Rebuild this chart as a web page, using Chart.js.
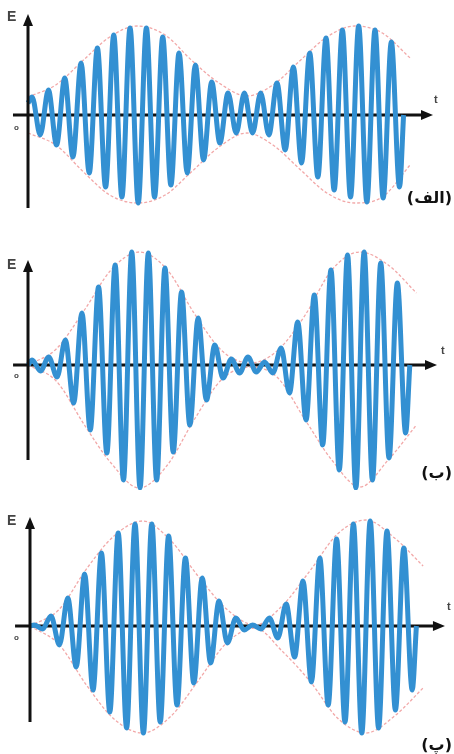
<!DOCTYPE html>
<html><head><meta charset="utf-8">
<script src="https://cdn.jsdelivr.net/npm/chart.js@4"></script>
<style>
html,body{margin:0;padding:0;background:#fff;}
#wrap{position:relative;width:454px;height:754px;overflow:hidden;background:#fff;}
canvas{position:absolute;left:0;}
.lbl{position:absolute;font-family:"Liberation Sans",Arial,sans-serif;color:#444;line-height:1;}
.E{font-weight:bold;font-size:14px;}
.t{font-weight:bold;font-size:11px;}
.o{font-weight:bold;font-size:8px;}
.fa{position:absolute;right:2px;font-family:"DejaVu Sans",sans-serif;font-weight:bold;font-size:16px;color:#111;direction:rtl;line-height:1;}
</style></head>
<body><div id="wrap">
<canvas id="c1" width="454" height="230" style="top:0px"></canvas>
<canvas id="c2" width="454" height="250" style="top:240px"></canvas>
<canvas id="c3" width="454" height="254" style="top:500px"></canvas>
<div class="lbl E" style="left:7px;top:9px">E</div>
<div class="lbl t" style="left:434px;top:94px">t</div>
<div class="lbl o" style="left:14px;top:124px">o</div>
<div class="fa" style="top:190px">(الف)</div>
<div class="lbl E" style="left:7px;top:257px">E</div>
<div class="lbl t" style="left:441px;top:345px">t</div>
<div class="lbl o" style="left:14px;top:372px">o</div>
<div class="fa" style="top:465px">(ب)</div>
<div class="lbl E" style="left:7px;top:513px">E</div>
<div class="lbl t" style="left:447px;top:601px">t</div>
<div class="lbl o" style="left:14px;top:634px">o</div>
<div class="fa" style="top:737px">(پ)</div>
</div>
<script>
// time of each extremum, in carrier periods (shared by the three panels)
const waveTimes = [0,0.25,0.75,1.25,1.75,2.25,2.75,3.25,3.75,4.25,4.75,5.25,5.75,6.25,6.75,7.25,7.75,8.25,8.75,9.25,9.75,10.25,10.75,11.25,11.75,12.25,12.75,13.25,13.75,14.25,14.75,15.25,15.75,16.25,16.75,17.25,17.75,18.25,18.75,19.25,19.75,20.25,20.75,21.25,21.75,22.25,22.75,23.0];
// field values at those times (panel الف)
const waveA = [12,18,-20,25,-30,37,-42,52,-58,67,-72,80,-82,87,-88,87,-82,78,-70,62,-58,50,-45,33,-28,22,-18,22,-18,22,-20,32,-35,48,-48,62,-62,77,-75,85,-82,89,-87,85,-83,73,-72,0];
// panel ب
const waveB = [0,5,-6,8,-12,25,-38,52,-65,78,-88,100,-115,113,-123,112,-115,97,-87,73,-60,47,-35,20,-13,6,-8,8,-7,3,-8,17,-28,43,-55,70,-80,95,-105,110,-123,113,-115,102,-93,82,-68,0];
// panel پ
const waveC = [0,1,-3,10,-19,28,-41,52,-64,73,-86,93,-102,102,-107,102,-96,90,-79,68,-57,48,-37,25,-17,8,-4,1,-3,8,-12,22,-31,45,-56,68,-79,87,-96,102,-107,105,-102,95,-84,78,-64,0];
// envelope (red dotted) readings
const envTimes = [0,1.7,3.4,5.0,6.7,8.4,10.0,11.7,13.4,15.0,16.7,18.3,20.0,21.7,23.4];
const envAUpper = [18,30,55,78,89,80,55,32,19,30,55,78,89,82,57];
const envALower = [-18,-30,-57,-80,-88,-80,-57,-32,-18,-30,-55,-78,-88,-82,-50];
const envBUpper = [0,16,55,95,113,95,52,14,2,14,50,95,113,100,72];
const envBLower = [0,-16,-60,-98,-123,-100,-55,-14,-2,-12,-55,-95,-122,-95,-60];
const envCUpper = [0,16,58,90,105,85,50,17,1,20,56,92,106,88,60];
const envCLower = [0,-18,-60,-93,-107,-90,-55,-17,-2,-25,-56,-92,-107,-90,-62];

const WAVE_COLOR = '#3390d2';
const ENV_COLOR = '#f2a8a8';

function pts(xs, ys){ return xs.map((x,i)=>({x:x, y:ys[i]})); }

const arrowAxes = {
  id:'arrowAxes',
  beforeDatasetsDraw(chart, args, o){
    const ctx = chart.ctx, xs = chart.scales.x, ys = chart.scales.y;
    const y0 = ys.getPixelForValue(0);
    const xa = xs.getPixelForValue(o.xFrom), xb = xs.getPixelForValue(o.xTo);
    ctx.save();
    ctx.strokeStyle = '#111'; ctx.fillStyle = '#111'; ctx.lineWidth = 3;
    ctx.beginPath(); ctx.moveTo(xa, y0); ctx.lineTo(xb - 9, y0); ctx.stroke();
    ctx.beginPath(); ctx.moveTo(xb, y0); ctx.lineTo(xb - 12, y0 - 5); ctx.lineTo(xb - 12, y0 + 5); ctx.closePath(); ctx.fill();
    ctx.restore();
  },
  afterDatasetsDraw(chart, args, o){
    const ctx = chart.ctx, xs = chart.scales.x, ys = chart.scales.y;
    const x0 = xs.getPixelForValue(0);
    const ya = ys.getPixelForValue(o.yFrom), yb = ys.getPixelForValue(o.yTo);
    ctx.save();
    ctx.strokeStyle = '#111'; ctx.fillStyle = '#111'; ctx.lineWidth = 3;
    ctx.beginPath(); ctx.moveTo(x0, ya); ctx.lineTo(x0, yb + 9); ctx.stroke();
    ctx.beginPath(); ctx.moveTo(x0, yb); ctx.lineTo(x0 - 5, yb + 12); ctx.lineTo(x0 + 5, yb + 12); ctx.closePath(); ctx.fill();
    ctx.restore();
  }
};

function makeChart(id, wave, envUp, envLo, cfg){
  return new Chart(document.getElementById(id), {
    type:'line',
    data:{ datasets:[
      { data: pts(waveTimes, wave), borderColor: WAVE_COLOR, borderWidth: 5, pointRadius: 0,
        cubicInterpolationMode:'monotone', fill:false, order:0 },
      { data: pts(envTimes, envUp), borderColor: ENV_COLOR, borderWidth: 1.3, borderDash:[3,2], pointRadius: 0,
        cubicInterpolationMode:'monotone', fill:false, order:1 },
      { data: pts(envTimes, envLo), borderColor: ENV_COLOR, borderWidth: 1.3, borderDash:[3,2], pointRadius: 0,
        cubicInterpolationMode:'monotone', fill:false, order:1 }
    ]},
    options:{
      responsive:false, animation:false, devicePixelRatio:1,
      layout:{ padding:0 },
      scales:{
        x:{ type:'linear', min:cfg.xMin, max:cfg.xMax, display:false },
        y:{ type:'linear', min:cfg.yMin, max:cfg.yMax, display:false }
      },
      plugins:{ legend:{display:false}, tooltip:{enabled:false},
        arrowAxes:{ xFrom:cfg.axX[0], xTo:cfg.axX[1], yFrom:cfg.axY[0], yTo:cfg.axY[1] } }
    },
    plugins:[arrowAxes]
  });
}

makeChart('c1', waveA, envAUpper, envALower,
  { xMin:-1.715, xMax:26.087, yMin:-115, yMax:115, axX:[-0.92,24.8], axY:[-93,101] });
makeChart('c2', waveB, envBUpper, envBLower,
  { xMin:-1.687, xMax:25.663, yMin:-125, yMax:125, axX:[-0.9,24.64], axY:[-95,105] });
makeChart('c3', waveC, envCUpper, envCLower,
  { xMin:-1.786, xMax:25.238, yMin:-128, yMax:126, axX:[-0.89,24.7], axY:[-96,109] });
</script>
</body></html>
